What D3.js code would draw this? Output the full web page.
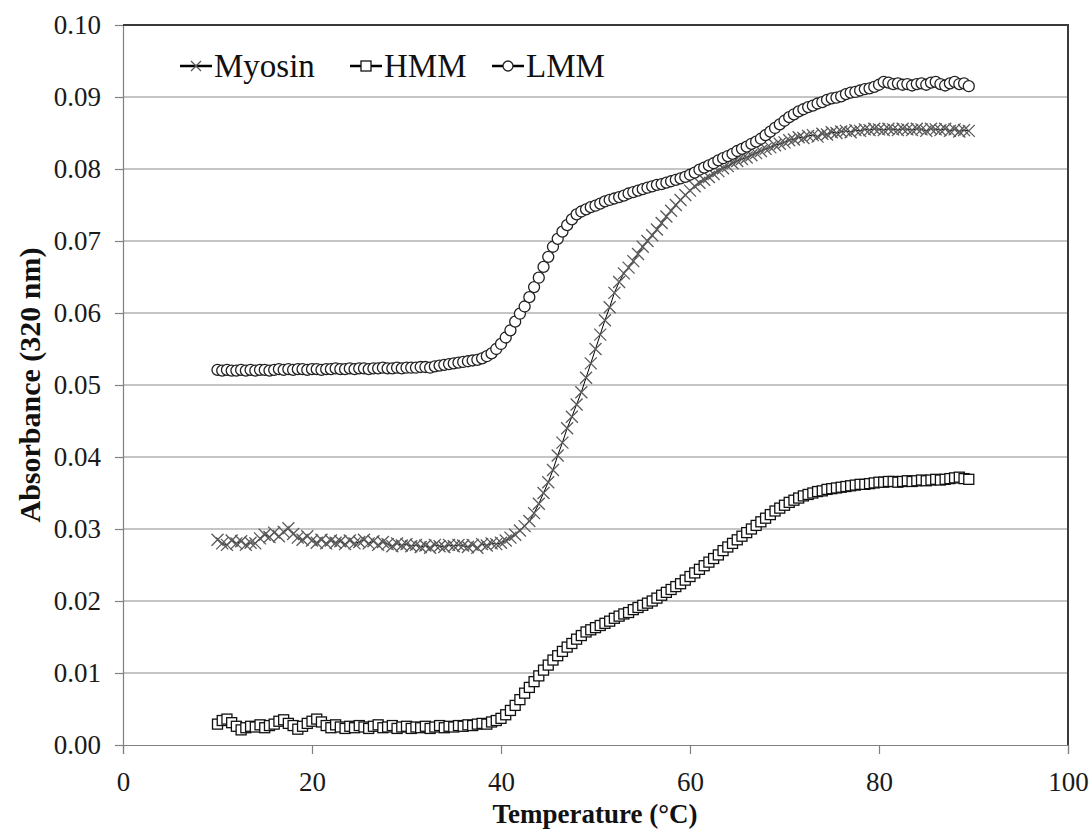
<!DOCTYPE html>
<html><head><meta charset="utf-8">
<script src="https://cdnjs.cloudflare.com/ajax/libs/d3/7.8.5/d3.min.js"></script>
<style>body{margin:0;background:#fff}svg{display:block} svg text{font-family:"Liberation Serif",serif;}</style>
</head><body>
<svg id="chart" width="1092" height="832"></svg>
<script>
const temperature = [10,10.5,11,11.5,12,12.5,13,13.5,14,14.5,15,15.5,16,16.5,17,17.5,18,18.5,19,19.5,
20,20.5,21,21.5,22,22.5,23,23.5,24,24.5,25,25.5,26,26.5,27,27.5,28,28.5,29,29.5,
30,30.5,31,31.5,32,32.5,33,33.5,34,34.5,35,35.5,36,36.5,37,37.5,38,38.5,39,39.5,
40,40.5,41,41.5,42,42.5,43,43.5,44,44.5,45,45.5,46,46.5,47,47.5,48,48.5,49,49.5,
50,50.5,51,51.5,52,52.5,53,53.5,54,54.5,55,55.5,56,56.5,57,57.5,58,58.5,59,59.5,
60,60.5,61,61.5,62,62.5,63,63.5,64,64.5,65,65.5,66,66.5,67,67.5,68,68.5,69,69.5,
70,70.5,71,71.5,72,72.5,73,73.5,74,74.5,75,75.5,76,76.5,77,77.5,78,78.5,79,79.5,
80,80.5,81,81.5,82,82.5,83,83.5,84,84.5,85,85.5,86,86.5,87,87.5,88,88.5,89,89.5];

const myosin = [0.0285,0.0280,0.0278,0.0284,0.0280,0.0283,0.0278,0.0281,0.0280,0.0287,
0.0292,0.0289,0.0295,0.0290,0.0296,0.0301,0.0293,0.0288,0.0285,0.0290,
0.0284,0.0281,0.0285,0.0280,0.0284,0.0281,0.0283,0.0279,0.0284,0.0280,
0.0282,0.0285,0.0280,0.0283,0.0278,0.0282,0.0279,0.0276,0.0280,0.0277,
0.0279,0.0276,0.0278,0.0275,0.0277,0.0274,0.0278,0.0276,0.0275,0.0278,
0.0276,0.0278,0.0277,0.0275,0.0278,0.0274,0.0279,0.0277,0.0280,0.0279,
0.0281,0.0284,0.0288,0.0292,0.0298,0.0304,0.0311,0.0322,0.0335,0.0350,
0.0365,0.0382,0.0402,0.0420,0.0440,0.0456,0.0473,0.0490,0.0510,0.0530,
0.0550,0.0570,0.0590,0.0608,0.0628,0.0643,0.0655,0.0663,0.0672,0.0682,
0.0692,0.0700,0.0708,0.0716,0.0725,0.0734,0.0742,0.0750,0.0757,0.0764,
0.0770,0.0776,0.0781,0.0785,0.0789,0.0793,0.0797,0.0801,0.0804,0.0808,
0.0811,0.0814,0.0816,0.0819,0.0822,0.0825,0.0828,0.0830,0.0833,0.0835,
0.0837,0.0840,0.0841,0.0844,0.0843,0.0846,0.0847,0.0845,0.0849,0.0848,
0.0851,0.0850,0.0852,0.0853,0.0851,0.0854,0.0853,0.0855,0.0854,0.0856,
0.0855,0.0854,0.0856,0.0855,0.0854,0.0856,0.0855,0.0854,0.0856,0.0855,
0.0853,0.0856,0.0855,0.0854,0.0856,0.0853,0.0855,0.0852,0.0854,0.0853];

const hmm = [0.0029,0.0034,0.0036,0.0031,0.0026,0.0021,0.0024,0.0026,0.0025,0.0028,
0.0024,0.0027,0.0029,0.0033,0.0035,0.0030,0.0027,0.0022,0.0026,0.0030,
0.0033,0.0036,0.0032,0.0027,0.0024,0.0028,0.0025,0.0023,0.0026,0.0024,
0.0027,0.0025,0.0023,0.0026,0.0028,0.0024,0.0025,0.0027,0.0023,0.0025,
0.0026,0.0023,0.0025,0.0024,0.0026,0.0023,0.0025,0.0027,0.0024,0.0026,
0.0025,0.0027,0.0026,0.0028,0.0027,0.0029,0.0030,0.0029,0.0032,0.0034,
0.0037,0.0042,0.0048,0.0055,0.0063,0.0072,0.0080,0.0088,0.0096,0.0104,
0.0111,0.0118,0.0124,0.0130,0.0136,0.0141,0.0147,0.0152,0.0157,0.0160,
0.0163,0.0166,0.0169,0.0172,0.0176,0.0179,0.0182,0.0184,0.0188,0.0191,
0.0194,0.0197,0.0200,0.0204,0.0208,0.0212,0.0216,0.0220,0.0224,0.0229,
0.0234,0.0239,0.0244,0.0249,0.0254,0.0259,0.0264,0.0270,0.0275,0.0280,
0.0285,0.0290,0.0295,0.0300,0.0305,0.0310,0.0315,0.0320,0.0325,0.0329,
0.0333,0.0337,0.0340,0.0343,0.0346,0.0348,0.0350,0.0352,0.0353,0.0355,
0.0356,0.0357,0.0358,0.0359,0.0360,0.0361,0.0362,0.0362,0.0363,0.0364,
0.0365,0.0365,0.0366,0.0366,0.0365,0.0366,0.0367,0.0366,0.0367,0.0368,
0.0367,0.0368,0.0369,0.0368,0.0369,0.0370,0.0371,0.0372,0.0370,0.0369];

const lmm = [0.0521,0.0520,0.0521,0.0520,0.0520,0.0521,0.0520,0.0521,0.0520,0.0521,
0.0521,0.0520,0.0521,0.0522,0.0521,0.0522,0.0521,0.0522,0.0522,0.0521,
0.0522,0.0522,0.0521,0.0522,0.0522,0.0523,0.0522,0.0522,0.0523,0.0522,
0.0523,0.0523,0.0522,0.0523,0.0523,0.0524,0.0523,0.0523,0.0524,0.0523,
0.0524,0.0524,0.0524,0.0525,0.0525,0.0524,0.0526,0.0527,0.0528,0.0529,
0.0530,0.0531,0.0532,0.0533,0.0534,0.0535,0.0537,0.0540,0.0544,0.0550,
0.0557,0.0566,0.0576,0.0588,0.0599,0.0609,0.0622,0.0636,0.0649,0.0664,
0.0678,0.0692,0.0703,0.0713,0.0722,0.0730,0.0737,0.0741,0.0744,0.0747,
0.0749,0.0752,0.0755,0.0757,0.0759,0.0761,0.0763,0.0766,0.0768,0.0770,
0.0772,0.0774,0.0776,0.0778,0.0779,0.0781,0.0783,0.0785,0.0787,0.0789,
0.0792,0.0795,0.0799,0.0802,0.0805,0.0808,0.0812,0.0815,0.0818,0.0821,
0.0825,0.0828,0.0831,0.0835,0.0838,0.0842,0.0847,0.0852,0.0857,0.0862,
0.0867,0.0872,0.0876,0.0880,0.0883,0.0886,0.0888,0.0891,0.0893,0.0896,
0.0898,0.0899,0.0901,0.0904,0.0906,0.0907,0.0909,0.0911,0.0912,0.0914,
0.0917,0.0921,0.0920,0.0918,0.0919,0.0917,0.0918,0.0916,0.0918,0.0919,
0.0917,0.0920,0.0921,0.0918,0.0916,0.0919,0.0921,0.0918,0.0919,0.0915];

const seriesNames = ["Myosin", "HMM", "LMM"];
const xTicks = [0, 20, 40, 60, 80, 100];
const yTicks = [0, 0.01, 0.02, 0.03, 0.04, 0.05, 0.06, 0.07, 0.08, 0.09, 0.10];

const series = [
  {name: seriesNames[0], values: myosin, marker: "x"},
  {name: seriesNames[1], values: hmm, marker: "square"},
  {name: seriesNames[2], values: lmm, marker: "circle"}
];

const svg = d3.select("#chart");
const L = 123, R = 1068, T = 25, B = 745;
const x = d3.scaleLinear().domain([0, 100]).range([L, R]);
const y = d3.scaleLinear().domain([0, 0.10]).range([B, T]);
const font = "Liberation Serif";

// gridlines
svg.append("g").selectAll("line").data(yTicks.slice(1)).join("line")
  .attr("x1", L).attr("x2", R).attr("y1", d => y(d)).attr("y2", d => y(d))
  .attr("stroke", "#8c8c8c").attr("stroke-width", 1.2);

// axes
const yAxis = d3.axisLeft(y).tickValues(yTicks).tickFormat(d3.format(".2f")).tickSize(8).tickPadding(14);
const gy = svg.append("g").attr("transform", `translate(${L},0)`).call(yAxis);
gy.attr("font-family", null);
gy.select(".domain").attr("stroke", "#808080").attr("stroke-width", 1.2);
gy.selectAll(".tick line").attr("stroke", "#808080").attr("stroke-width", 1.2);
gy.selectAll("text").style("font-family", font).style("font-size", "27px").attr("fill", "#1a1a1a");

const xAxis = d3.axisBottom(x).tickValues(xTicks).tickFormat(d3.format("d")).tickSize(9).tickPadding(18);
const gx = svg.append("g").attr("transform", `translate(0,${B})`).call(xAxis);
gx.attr("font-family", null);
gx.select(".domain").attr("stroke", "#808080").attr("stroke-width", 1.2);
gx.selectAll(".tick line").attr("stroke", "#808080").attr("stroke-width", 1.2);
gx.selectAll("text").style("font-family", font).style("font-size", "27px").attr("fill", "#1a1a1a");

// top/right border
svg.append("path").attr("d", `M${L},${T}H${R}V${B}`).attr("fill", "none")
  .attr("stroke", "#3a3a3a").attr("stroke-width", 2);

// axis titles
svg.append("text").attr("x", 595).attr("y", 823).attr("text-anchor", "middle")
  .style("font-family", font).style("font-weight", "bold").style("font-size", "27px").attr("fill", "#111")
  .text("Temperature (°C)");
svg.append("text").attr("transform", `translate(40,${(T + B) / 2}) rotate(-90)`).attr("text-anchor", "middle")
  .style("font-family", font).style("font-weight", "bold").style("font-size", "30px").attr("fill", "#111")
  .text("Absorbance (320 nm)");

function drawMarker(g, type, size) {
  const h = size / 2;
  if (type === "x") {
    g.append("path").attr("d", `M${-h},${-h}L${h},${h}M${-h},${h}L${h},${-h}`)
      .attr("stroke", "#5a5a5a").attr("stroke-width", 1.3).attr("fill", "none");
  } else if (type === "square") {
    g.append("rect").attr("x", -h).attr("y", -h).attr("width", size).attr("height", size)
      .attr("fill", "#fff").attr("stroke", "#111").attr("stroke-width", 1.3);
  } else {
    g.append("circle").attr("r", h).attr("fill", "#fff").attr("stroke", "#222").attr("stroke-width", 1.3);
  }
}
const markerSize = {x: 12, square: 10, circle: 11};

const line = d3.line().x((d, i) => x(temperature[i])).y(d => y(d));
series.forEach(s => {
  const g = svg.append("g");
  g.append("path").datum(s.values).attr("d", line).attr("fill", "none")
    .attr("stroke", "#000").attr("stroke-width", 1);
  s.values.forEach((v, i) => {
    const m = g.append("g").attr("transform", `translate(${x(temperature[i])},${y(v)})`);
    drawMarker(m, s.marker, markerSize[s.marker]);
  });
});

// legend
const legendX = [180, 350, 492];
const legend = svg.append("g");
series.forEach((s, i) => {
  const lg = legend.append("g").attr("transform", `translate(${legendX[i]},66)`);
  lg.append("line").attr("x1", 0).attr("x2", 32).attr("y1", 0).attr("y2", 0)
    .attr("stroke", "#000").attr("stroke-width", 2.5);
  const m = lg.append("g").attr("transform", "translate(16,0)");
  drawMarker(m, s.marker, 10);
  lg.append("text").attr("x", 34).attr("y", 11).style("font-family", font).style("font-size", "33px")
    .attr("fill", "#111").text(s.name);
});
</script>
</body></html>
